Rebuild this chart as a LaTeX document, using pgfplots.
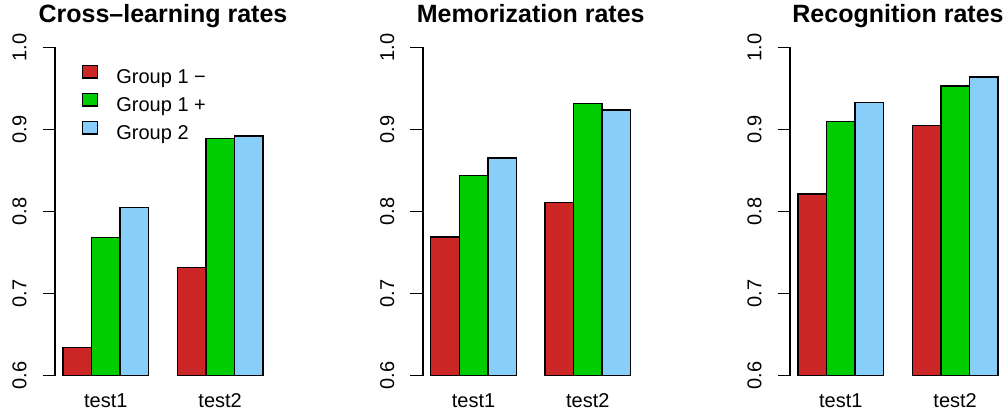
\documentclass[border=0pt]{standalone}
\usepackage{fontspec}
\setmainfont{Liberation Sans}
\usepackage{graphicx}
\usepackage{pgfplots}
\pgfplotsset{compat=1.18}
\definecolor{cred}{RGB}{205,38,38}
\definecolor{cgreen}{RGB}{0,205,0}
\definecolor{cblue}{RGB}{135,206,250}
\pgfplotsset{
  rpanel/.style={
    scale only axis, width=216bp, height=328bp,
    xmin=0.72, xmax=8.28, ymin=0.6, ymax=1.0, enlargelimits=false,
    clip mode=individual,
    axis lines*=left, axis line style={draw=none},
    ytick={0.6,0.7,0.8,0.9,1.0},
    yticklabels={\rotatebox{90}{0.6},\rotatebox{90}{0.7},\rotatebox{90}{0.8},\rotatebox{90}{0.9},\rotatebox{90}{1.0}},
    tick align=outside, major tick length=12.3bp,
    ytick style={draw=none},
    xtick={2.5,6.5}, xticklabels={test1,test2}, xtick style={draw=none},
    yticklabel style={anchor=east, inner sep=0pt, xshift=-16bp},
    xticklabel style={anchor=base, inner sep=0pt, yshift=-19.5bp},
    tick label style={font=\fontsize{20bp}{24bp}\selectfont},
    title style={font=\fontsize{25bp}{30bp}\bfseries\selectfont, anchor=base, at={(0.5,1)}, yshift=19.5bp},
    ybar, bar shift=0pt, bar width=1,
    anchor=south west,
  },
  rbar/.style={draw=black, line width=1.5bp, fill=#1,
    legend image code/.code={\draw[##1, line width=1.5bp] (0bp,0.7bp) rectangle (15bp,13.3bp);}},
}
\newcommand{\yaxisline}{%
  \draw[black, line width=1.8bp, line join=miter]
    ([xshift=-12.3bp]axis cs:0.72,1.0) -- (axis cs:0.72,1.0) -- (axis cs:0.72,0.6) -- ([xshift=-12.3bp]axis cs:0.72,0.6);
  \draw[black, line width=1.8bp] (axis cs:0.72,0.7) -- ([xshift=-12.3bp]axis cs:0.72,0.7);
  \draw[black, line width=1.8bp] (axis cs:0.72,0.8) -- ([xshift=-12.3bp]axis cs:0.72,0.8);
  \draw[black, line width=1.8bp] (axis cs:0.72,0.9) -- ([xshift=-12.3bp]axis cs:0.72,0.9);
}
\begin{document}
\begin{tikzpicture}
\path[use as bounding box] (0,0) rectangle (1007bp,414bp);
% Panel 1
\begin{axis}[rpanel, at={(55bp,38.5bp)}, title={Cross–learning rates},
  legend style={draw=none, fill=none, inner sep=0pt, at={(0.1236,0.948)}, anchor=north west,
    font=\fontsize{20bp}{24bp}\selectfont,
    nodes={text height=13bp, text depth=4bp, inner sep=1.5bp}, row sep=4bp, column sep=16.5bp},
  legend cell align=left]
\addplot[rbar=cred] coordinates {(1.5,0.634) (5.5,0.732)};
\addplot[rbar=cgreen] coordinates {(2.5,0.768) (6.5,0.889)};
\addplot[rbar=cblue] coordinates {(3.5,0.805) (7.5,0.892)};
\legend{Group 1 −, Group 1 +, Group 2}
\yaxisline
\end{axis}
% Panel 2
\begin{axis}[rpanel, at={(422.7bp,38.5bp)}, title={Memorization rates}]
\addplot[rbar=cred] coordinates {(1.5,0.769) (5.5,0.811)};
\addplot[rbar=cgreen] coordinates {(2.5,0.844) (6.5,0.932)};
\addplot[rbar=cblue] coordinates {(3.5,0.865) (7.5,0.924)};
\yaxisline
\end{axis}
% Panel 3
\begin{axis}[rpanel, at={(790bp,38.5bp)}, title={Recognition rates}]
\addplot[rbar=cred] coordinates {(1.5,0.8215) (5.5,0.905)};
\addplot[rbar=cgreen] coordinates {(2.5,0.910) (6.5,0.953)};
\addplot[rbar=cblue] coordinates {(3.5,0.933) (7.5,0.964)};
\yaxisline
\end{axis}
\end{tikzpicture}
\end{document}
